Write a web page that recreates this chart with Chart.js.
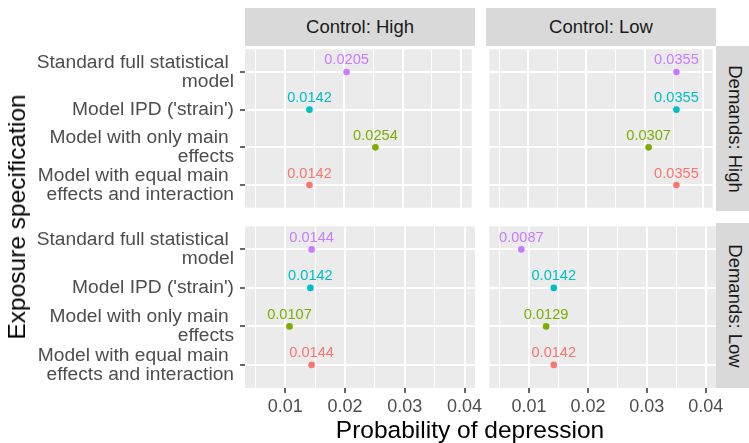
<!DOCTYPE html>
<html>
<head>
<meta charset="utf-8">
<script src="https://cdn.jsdelivr.net/npm/chart.js@4.4.0/dist/chart.umd.min.js"></script>
<style>
    body {
        margin: 0;
        width: 749px;
        height: 443px;
        overflow: hidden;
        position: relative;
        background: #fff;
        font-family: "Liberation Sans", Arial, sans-serif;
    }
    canvas { position: absolute; }
    .strip {
        position: absolute;
        background: #D9D9D9;
        color: #1A1A1A;
        font-size: 18.5px;
        display: flex;
        align-items: center;
        justify-content: center;
        white-space: nowrap;
    }
    .strip.side span { transform: rotate(90deg); }
    .title {
        position: absolute;
        color: #000;
        font-size: 24.5px;
        white-space: nowrap;
        transform: translate(-50%, -50%);
    }
</style>
</head>
<body>
<div class="strip" style="left:245px;top:8px;width:230px;height:38px;">Control: High</div>
<div class="strip" style="left:486px;top:8px;width:230px;height:38px;">Control: Low</div>
<div class="strip side" style="left:716px;top:46px;width:38px;height:165px;"><span>Demands: High</span></div>
<div class="strip side" style="left:716px;top:223px;width:38px;height:165px;"><span>Demands: Low</span></div>

<canvas id="hh" width="475" height="165" style="left:0;top:46px;"></canvas>
<canvas id="hl" width="230" height="165" style="left:486px;top:46px;"></canvas>
<canvas id="lh" width="486" height="201" style="left:0;top:223px;"></canvas>
<canvas id="ll" width="263" height="201" style="left:486px;top:223px;"></canvas>

<div class="title" style="left:17px;top:217px;transform:translate(-50%,-50%) rotate(-90deg);">Exposure specification</div>
<div class="title" style="left:470px;top:430px;">Probability of depression</div>

<script>
// y categories, bottom to top
const specs = [
    ['Model with equal main ', 'effects and interaction'],
    ['Model with only main ', 'effects'],
    ["Model IPD ('strain')"],
    ['Standard full statistical ', 'model']
];
const pointColors = ['#F8766D', '#7CAE00', '#00BFC4', '#C77CFF'];

// probability of depression per panel (same order as specs)
const demHighCtrlHigh = [0.0142, 0.0254, 0.0142, 0.0205];
const demHighCtrlLow = [0.0355, 0.0307, 0.0355, 0.0355];
const demLowCtrlHigh = [0.0144, 0.0107, 0.0142, 0.0144];
const demLowCtrlLow = [0.0142, 0.0129, 0.0142, 0.0087];

const xTickValues = [0.01, 0.02, 0.03, 0.04];
const xTickLabels = ['0.01', '0.02', '0.03', '0.04'];
const xMinorValues = [0.005, 0.015, 0.025, 0.035];
const xLimits = [0.005, 0.04];

const FONT = '"Liberation Sans", Arial, sans-serif';
const xPad = (xLimits[1] - xLimits[0]) * 0.05;

function majorIndex(v) {
    return xTickValues.findIndex(t => Math.abs(t - v) < 1e-9);
}

const panelBg = {
    id: 'panelBg',
    beforeDraw(chart) {
        const a = chart.chartArea;
        const c = chart.ctx;
        c.save();
        c.fillStyle = '#EBEBEB';
        c.fillRect(a.left, a.top, a.right - a.left, a.bottom - a.top);
        c.restore();
    }
};

const valueLabels = {
    id: 'valueLabels',
    afterDatasetsDraw(chart) {
        const c = chart.ctx;
        const meta = chart.getDatasetMeta(0);
        const pts = chart.data.datasets[0].data;
        c.save();
        c.font = '14.6px ' + FONT;
        c.textAlign = 'center';
        c.textBaseline = 'middle';
        meta.data.forEach((el, i) => {
            c.fillStyle = pointColors[i];
            c.fillText(pts[i].x.toFixed(4), el.x, el.y - 11.5);
        });
        c.restore();
    }
};

function painel(id, valores, showY, showX, padRight) {
    const ctx = document.getElementById(id).getContext('2d');
    const gridVals = xMinorValues.concat(xTickValues).sort((a, b) => a - b);

    new Chart(ctx, {
        type: 'scatter',
        data: {
            datasets: [{
                data: valores.map((v, i) => ({ x: v, y: i + 1 })),
                backgroundColor: pointColors,
                borderWidth: 0,
                pointRadius: 3.3,
                pointHoverRadius: 3.3
            }]
        },
        options: {
            responsive: false,
            animation: false,
            events: [],
            layout: { padding: { right: padRight } },
            plugins: {
                legend: { display: false },
                tooltip: { enabled: false }
            },
            scales: {
                x: {
                    type: 'linear',
                    min: xLimits[0] - xPad,
                    max: xLimits[1] + xPad,
                    border: { display: false },
                    afterBuildTicks: s => { s.ticks = gridVals.map(v => ({ value: v })); },
                    afterFit: s => {
                        s.height = showX ? 36 : 0;
                        s.paddingLeft = 0;
                        s.paddingRight = 0;
                    },
                    grid: {
                        color: '#FFFFFF',
                        lineWidth: c => (c.tick && majorIndex(c.tick.value) >= 0) ? 2 : 1,
                        drawTicks: showX,
                        tickLength: 5,
                        tickWidth: 1.5,
                        tickColor: c => (c.tick && majorIndex(c.tick.value) >= 0) ? '#333333' : 'rgba(0,0,0,0)'
                    },
                    ticks: {
                        display: showX,
                        autoSkip: false,
                        maxRotation: 0,
                        padding: 3,
                        color: '#4D4D4D',
                        font: { family: FONT, size: 18 },
                        callback: v => {
                            const i = majorIndex(v);
                            return i >= 0 ? xTickLabels[i] : '';
                        }
                    }
                },
                y: {
                    type: 'linear',
                    min: 0.4,
                    max: specs.length + 0.6,
                    border: { display: false },
                    afterBuildTicks: s => { s.ticks = specs.map((_, i) => ({ value: i + 1 })); },
                    afterFit: s => {
                        s.width = showY ? 245 : 0;
                        s.paddingTop = 0;
                        s.paddingBottom = 0;
                    },
                    grid: {
                        color: '#FFFFFF',
                        lineWidth: 2,
                        drawTicks: showY,
                        tickLength: 5,
                        tickWidth: 1.5,
                        tickColor: '#333333'
                    },
                    ticks: {
                        display: showY,
                        autoSkip: false,
                        padding: 6,
                        color: '#4D4D4D',
                        font: { family: FONT, size: 19.2, lineHeight: 1.0 },
                        callback: v => specs[Math.round(v) - 1]
                    }
                }
            }
        },
        plugins: [panelBg, valueLabels]
    });
}

painel('hh', demHighCtrlHigh, true, false, 0);
painel('hl', demHighCtrlLow, false, false, 0);
painel('lh', demLowCtrlHigh, true, true, 11);
painel('ll', demLowCtrlLow, false, true, 33);
</script>
</body>
</html>
